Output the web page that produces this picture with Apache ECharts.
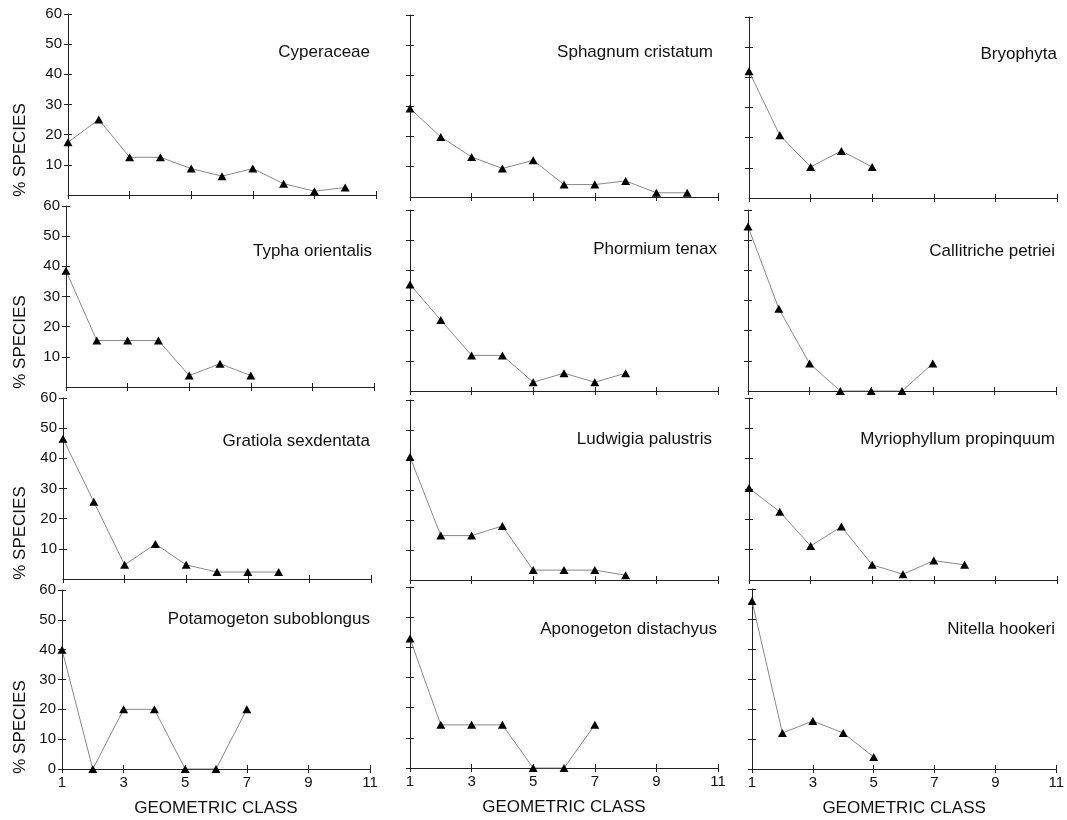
<!DOCTYPE html>
<html>
<head>
<meta charset="utf-8">
<script src="https://cdn.jsdelivr.net/npm/echarts@6/dist/echarts.min.js"></script>
<style>
html, body { margin: 0; padding: 0; background: #fff; }
#chart { width: 1067px; height: 820px; }
</style>
</head>
<body>
<div id="chart"></div>
<script>
// panel names, row by row
const panelNames = [
    'Cyperaceae', 'Sphagnum cristatum', 'Bryophyta',
    'Typha orientalis', 'Phormium tenax', 'Callitriche petriei',
    'Gratiola sexdentata', 'Ludwigia palustris', 'Myriophyllum propinquum',
    'Potamogeton suboblongus', 'Aponogeton distachyus', 'Nitella hookeri'
];

// % species per geometric class (class 1, 2, 3 ...)
const cyperaceae = [17.5, 25, 12.5, 12.5, 8.75, 6.25, 8.75, 3.75, 1.25, 2.5];
const sphagnum = [29.2, 19.8, 13.2, 9.4, 12.1, 4.1, 4.1, 5.3, 1.4, 1.4];
const bryophyta = [42, 20.8, 10.3, 15.6, 10.3];
const typha = [38.5, 15.4, 15.4, 15.4, 3.8, 7.7, 3.8];
const phormium = [35.3, 23.5, 11.8, 11.8, 2.9, 5.9, 2.9, 5.9];
const callitriche = [54.5, 27.3, 9.1, 0, 0, 0, 9.1];
const gratiola = [46.5, 25.6, 4.7, 11.6, 4.7, 2.3, 2.3, 2.3];
const ludwigia = [41, 14.8, 14.8, 18, 3.3, 3.3, 3.3, 1.6];
const myriophyllum = [30.3, 22.5, 11.2, 17.6, 5, 1.9, 6.4, 5];
const potamogeton = [40, 0, 20, 20, 0, 0, 20];
const aponogeton = [42.9, 14.3, 14.3, 14.3, 0, 0, 14.3];
const nitella = [56, 12, 16, 12, 4];

const panelValues = [
    cyperaceae, sphagnum, bryophyta,
    typha, phormium, callitriche,
    gratiola, ludwigia, myriophyllum,
    potamogeton, aponogeton, nitella
];

// tick labels
const xTickLabels = [1, 3, 5, 7, 9, 11];
const yTickLabels = [0, 10, 20, 30, 40, 50, 60];

// layout of the 4x3 panels (pixels)
const gridLeft = [[68, 410, 749], [66, 410, 748], [63, 410, 749], [62, 410, 752]];
const gridTop = [[14, 15, 17], [206, 210, 210], [398, 400, 398], [590, 587, 589]];
const gridAxisY = [[195, 197, 198], [387, 391, 391], [579, 580, 580], [769, 768, 769]];
const gridWidth = [308, 308, 308];
const titleRight = [[697, 354, 10], [695, 350, 12], [697, 355, 12], [697, 350, 12]];
const titleTop = [[44, 44, 46], [243, 241, 243], [433, 431, 431], [611, 621, 621]];
const speciesY = [150, 342, 533, 727];

const font = "'Liberation Sans', Arial, sans-serif";
const axisColor = '#222';

let chart = echarts.init(document.getElementById('chart'));

let grids = [], xAxes = [], yAxes = [], series = [], titles = [], graphics = [];

for (let r = 0; r < 4; r++) {
    for (let c = 0; c < 3; c++) {
        let i = r * 3 + c;
        let bottomRow = r === 3;
        let yTicks = bottomRow ? yTickLabels : yTickLabels.slice(1);

        grids.push({
            left: gridLeft[r][c],
            top: gridTop[r][c],
            width: gridWidth[c],
            height: gridAxisY[r][c] - gridTop[r][c]
        });

        // main x axis: line, outside ticks, labels
        xAxes.push({
            gridIndex: i, type: 'value', min: 1, max: 11,
            axisLine: { show: true, lineStyle: { color: axisColor, width: 1 } },
            axisTick: { show: true, length: 4, customValues: xTickLabels, lineStyle: { color: axisColor } },
            axisLabel: { show: bottomRow, customValues: xTickLabels, margin: 6, fontSize: 15, color: '#111', fontFamily: font },
            splitLine: { show: false },
            name: bottomRow ? 'GEOMETRIC CLASS' : '',
            nameLocation: 'middle', nameGap: 31,
            nameTextStyle: { fontSize: 17, color: '#111', fontFamily: font }
        });
        // second x axis only for inside ticks (cross ticks)
        xAxes.push({
            gridIndex: i, type: 'value', min: 1, max: 11, position: 'bottom',
            axisLine: { show: false },
            axisTick: { show: true, inside: true, length: 4, customValues: xTickLabels, lineStyle: { color: axisColor } },
            axisLabel: { show: false },
            splitLine: { show: false }
        });

        yAxes.push({
            gridIndex: i, type: 'value', min: 0, max: 60, interval: 10, position: 'left',
            axisLine: { show: true, lineStyle: { color: axisColor, width: 1 } },
            axisTick: { show: true, length: 4, customValues: yTicks, lineStyle: { color: axisColor } },
            axisLabel: { show: c === 0, customValues: yTicks, margin: 6, fontSize: 15, color: '#111', fontFamily: font },
            splitLine: { show: false }
        });
        yAxes.push({
            gridIndex: i, type: 'value', min: 0, max: 60, interval: 10, position: 'left',
            axisLine: { show: false },
            axisTick: { show: true, inside: true, length: 4, customValues: yTicks, lineStyle: { color: axisColor } },
            axisLabel: { show: false },
            splitLine: { show: false }
        });

        series.push({
            type: 'line',
            xAxisIndex: i * 2,
            yAxisIndex: i * 2,
            data: panelValues[i].map((v, k) => [k + 1, v]),
            symbol: 'triangle',
            symbolSize: [9, 8],
            itemStyle: { color: '#000' },
            lineStyle: { color: '#888', width: 1 },
            silent: true,
            animation: false
        });

        titles.push({
            text: panelNames[i],
            right: titleRight[r][c],
            top: titleTop[r][c],
            padding: 0,
            textStyle: { fontSize: 17, fontWeight: 'normal', color: '#111', fontFamily: font }
        });
    }

    graphics.push({
        type: 'text',
        x: 20,
        y: speciesY[r],
        rotation: Math.PI / 2,
        style: { text: '% SPECIES', fontSize: 17, fill: '#111', fontFamily: font, align: 'center', verticalAlign: 'middle' }
    });
}

chart.setOption({
    animation: false,
    title: titles,
    grid: grids,
    xAxis: xAxes,
    yAxis: yAxes,
    series: series,
    graphic: graphics
});
</script>
</body>
</html>
